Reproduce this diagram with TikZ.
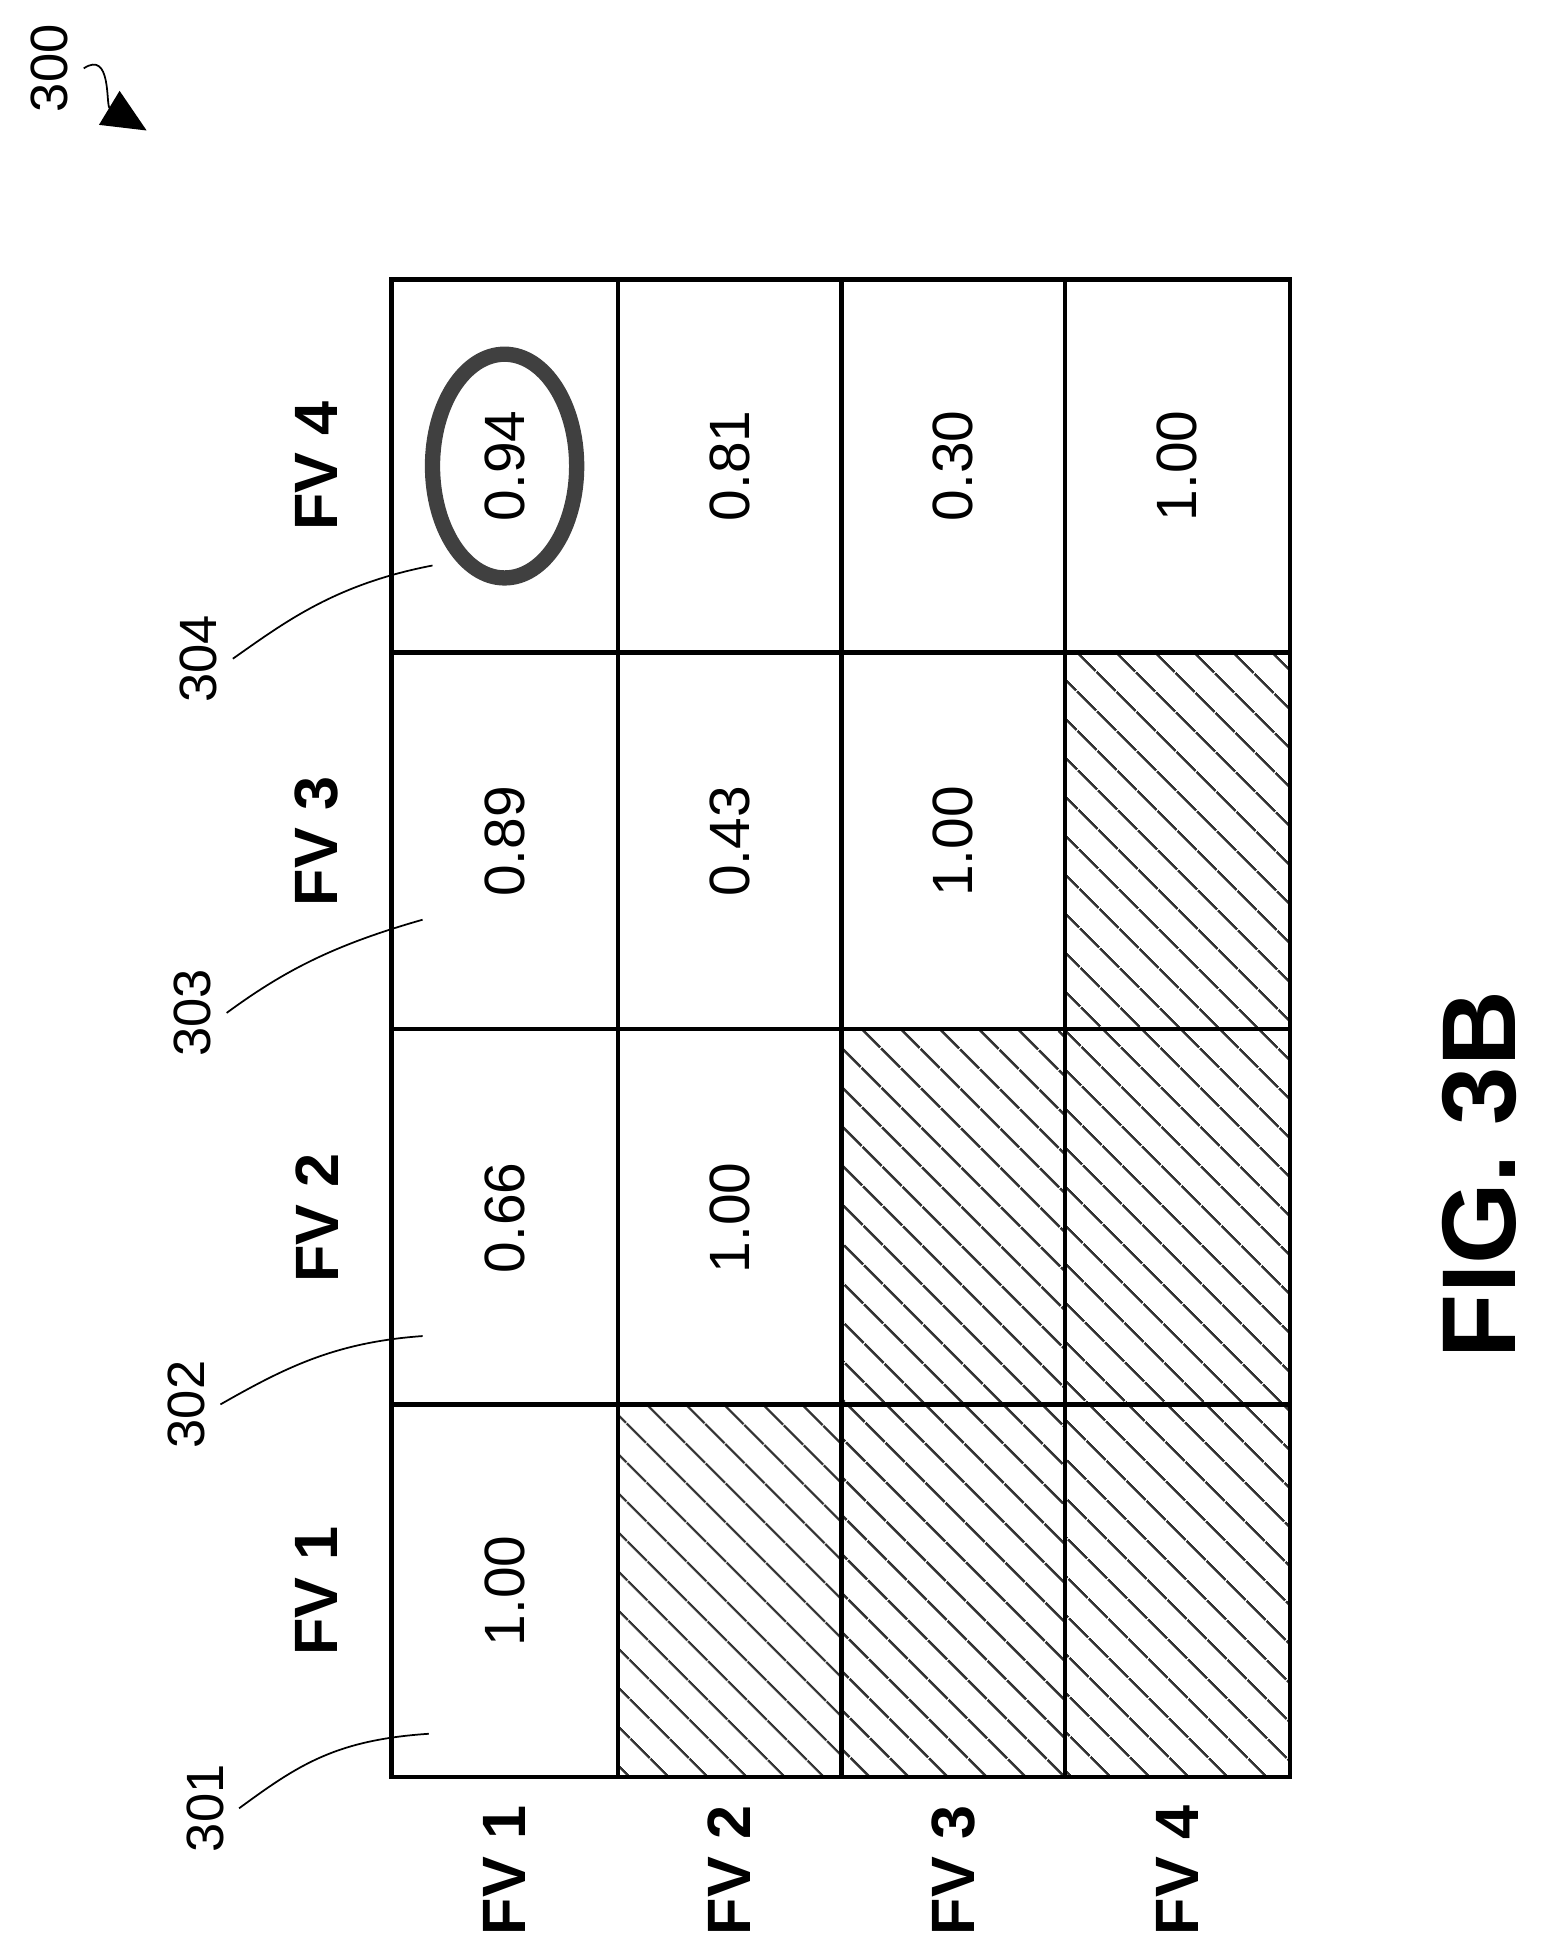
\documentclass[tikz,border=0pt]{standalone}
\usepackage{fontspec}
\setmainfont{Liberation Sans}
\usepackage{tikz}
\usetikzlibrary{positioning,arrows.meta,patterns.meta}

\begin{document}
\begin{tikzpicture}[x=0.01cm, y=-0.01cm,
  head/.style={rotate=90, font=\fontsize{14}{14}\selectfont\bfseries},
  val/.style={rotate=90, font=\fontsize{13}{13}\selectfont},
  ref/.style={rotate=90, font=\fontsize{12}{12}\selectfont},
  hatch/.style={pattern={Lines[angle=-45,distance=6.5pt,line width=0.6pt]}, pattern color=black!80}]
\useasboundingbox (0,0) rectangle (1240,1569);

% hatched cells
\fill[hatch] (497,1130) rectangle (677,1430);
\fill[hatch] (677,828) rectangle (857,1430);
\fill[hatch] (857,525) rectangle (1038,1430);

% grid
\draw[line width=1pt] (315,225) rectangle (1038,1430);
\foreach \x in {497,677,857} \draw[line width=1pt] (\x,225) -- (\x,1430);
\foreach \y in {525,828,1130} \draw[line width=1pt] (315,\y) -- (1038,\y);

% column heads
\node[head] (col_1) at (255,1280) {FV 1};
\node[head] (col_2) at (255,980) {FV 2};
\node[head] (col_3) at (255,677) {FV 3};
\node[head] (col_4) at (255,375) {FV 4};

% row heads
\node[head] (row_1) at (406,1505) {FV 1};
\node[head] (row_2) at (587,1505) {FV 2};
\node[head] (row_3) at (767,1505) {FV 3};
\node[head] (row_4) at (947,1505) {FV 4};

% values
\node[val] (v_11) at (406,1280) {1.00};
\node[val] (v_12) at (406,980) {0.66};
\node[val] (v_13) at (406,677) {0.89};
\node[val] (v_14) at (406,375) {0.94};
\node[val] (v_22) at (587,980) {1.00};
\node[val] (v_23) at (587,677) {0.43};
\node[val] (v_24) at (587,375) {0.81};
\node[val] (v_33) at (767,677) {1.00};
\node[val] (v_34) at (767,375) {0.30};
\node[val] (v_44) at (947,375) {1.00};

\draw[line width=3.5pt, black!75] (v_14) ellipse (58 and 90);

% reference numerals
\node[ref] (r_301) at (165,1455) {301};
\node[ref] (r_302) at (150,1130) {302};
\node[ref] (r_303) at (155,815) {303};
\node[ref] (r_304) at (160,530) {304};
\node[ref] (r_300) at (40,55) {300};
\coordinate (t_301) at (345,1395);
\coordinate (t_302) at (340,1075);
\coordinate (t_303) at (340,740);
\coordinate (t_304) at (348,455);
\coordinate (t_300) at (118,105);

\draw (r_301.south) .. controls (240,1420) and (270,1400) .. (t_301);
\draw (r_302.south) .. controls (230,1100) and (270,1080) .. (t_302);
\draw (r_303.south) .. controls (230,780) and (270,760) .. (t_303);
\draw (r_304.south) .. controls (230,500) and (270,470) .. (t_304);
\draw[-{Triangle[length=10pt,width=9pt]}] (r_300.south) .. controls (90,40) and (85,85) .. (t_300);

\node[rotate=90, font=\fontsize{24}{24}\selectfont\bfseries] (fig) at (1190,945) {FIG. 3B};
\end{tikzpicture}
\end{document}
